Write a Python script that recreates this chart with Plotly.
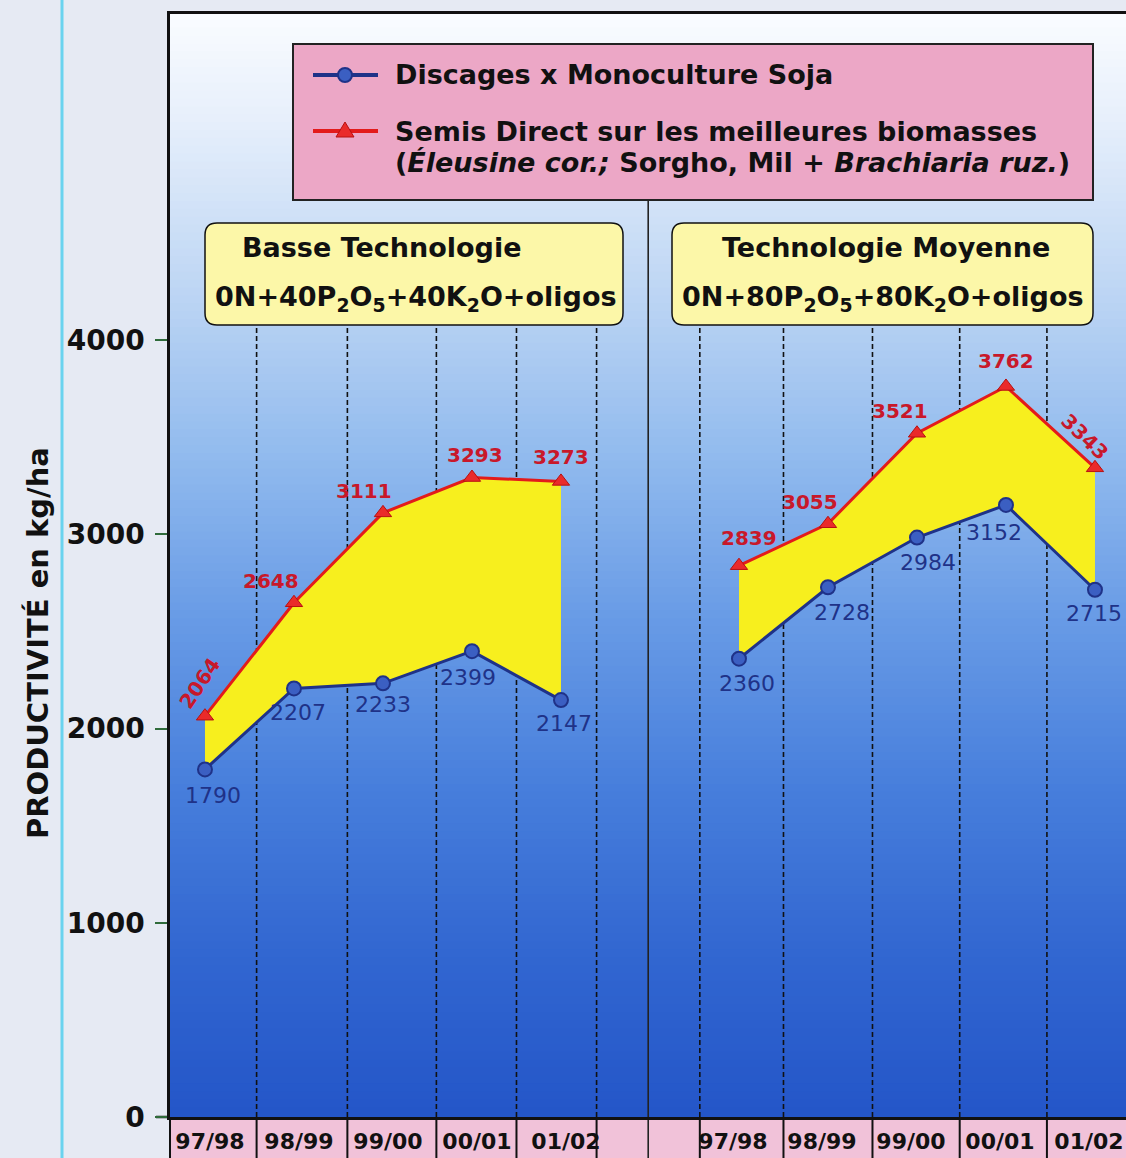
import plotly.graph_objects as go

# ---- data -------------------------------------------------------------
seasons = ["97/98", "98/99", "99/00", "00/01", "01/02"]
panel_titles = ["Basse Technologie", "Technologie Moyenne"]
panel_formulas = [
    "0N+40P<sub>2</sub>O<sub>5</sub>+40K<sub>2</sub>O+oligos",
    "0N+80P<sub>2</sub>O<sub>5</sub>+80K<sub>2</sub>O+oligos",
]
panel_start = [0, 6]          # x slot of the first season of each panel

discages_basse = [1790, 2207, 2233, 2399, 2147]
semis_basse = [2064, 2648, 3111, 3293, 3273]
discages_moyenne = [2360, 2728, 2984, 3152, 2715]
semis_moyenne = [2839, 3055, 3521, 3762, 3343]

y_ticks = [0, 1000, 2000, 3000, 4000]

# ---- label placement (pixel shifts / angles) --------------------------
disc_shift = [[(8, -26), (4, -24), (0, -21), (-4, -26), (3, -23)],
              [(8, -25), (14, -25), (11, -25), (-12, -28), (-1, -24)]]
semis_shift = [[(-5, 33), (-23, 22), (-19, 22), (3, 23), (0, 24)],
               [(10, 28), (-18, 22), (-17, 22), (0, 25), (-10, 31)]]
semis_angle = [[-56, 0, 0, 0, 0], [0, 0, 0, 0, 44]]
season_label_shift = [5, -6]   # per panel, px along the axis

# ---- geometry ---------------------------------------------------------
W, H = 1126, 1158
ML, MT, MB, MR = 170, 14, 41, 0
PW, PH = W - ML - MR, H - MT - MB
X0 = -0.393
XSPAN = PW / 89.0
X_RANGE = [X0, X0 + XSPAN]
Y_TOP = 5680

FONT = "DejaVu Sans"
NAVY = "#1f3288"
RED = "#e31b1b"
LABEL_RED = "#c8182a"
YELLOW = "#f7ef1e"


def px_x(px):
    return (px - ML) / PW


def px_y(py):
    return (MT + PH - py) / PH


def rounded_box(x0, y0, x1, y1, r):
    a, b, c, d = px_x(x0), px_x(x1), px_y(y0), px_y(y1)
    rx, ry = r / PW, r / PH
    return (f"M {a+rx},{c} L {b-rx},{c} Q {b},{c} {b},{c-ry} "
            f"L {b},{d+ry} Q {b},{d} {b-rx},{d} L {a+rx},{d} "
            f"Q {a},{d} {a},{d+ry} L {a},{c-ry} Q {a},{c} {a+rx},{c} Z")


def lerp_color(t):
    stops = [(0.0, (250, 252, 255)), (0.1, (230, 239, 251)),
             (0.25, (190, 214, 244)), (0.4, (146, 187, 238)),
             (0.55, (104, 155, 230)), (0.7, (72, 127, 220)),
             (0.85, (50, 103, 209)), (1.0, (36, 86, 200))]
    for (t0, c0), (t1, c1) in zip(stops, stops[1:]):
        if t <= t1:
            f = (t - t0) / (t1 - t0)
            return "rgb(%d,%d,%d)" % tuple(round(c0[i] + f * (c1[i] - c0[i])) for i in range(3))
    return "rgb(%d,%d,%d)" % stops[-1][1]


fig = go.Figure()

# ---- series (each panel on its own overlaid x axis) -------------------
series = [(discages_basse, semis_basse), (discages_moyenne, semis_moyenne)]
xaxis_ids = ["x", "x2"]
for p, (disc, semis) in enumerate(series):
    xs = [panel_start[p] + i for i in range(len(seasons))]
    fig.add_trace(go.Scatter(
        x=xs, y=disc, mode="lines+markers", xaxis=xaxis_ids[p],
        line=dict(color=NAVY, width=3),
        marker=dict(symbol="circle", size=14, color="#3b5fc2",
                    line=dict(color=NAVY, width=2)),
        showlegend=False, hoverinfo="skip"))
    fig.add_trace(go.Scatter(
        x=xs, y=semis, mode="lines+markers", xaxis=xaxis_ids[p],
        fill="tonexty", fillcolor=YELLOW,
        line=dict(color=RED, width=3),
        marker=dict(symbol="triangle-up", size=15, color="#ea2a2a",
                    line=dict(color="#b81010", width=1)),
        showlegend=False, hoverinfo="skip"))

# ---- value labels -----------------------------------------------------
annotations = []
for p, (disc, semis) in enumerate(series):
    for i in range(len(seasons)):
        x = panel_start[p] + i
        dx, dy = disc_shift[p][i]
        annotations.append(dict(
            xref=xaxis_ids[p], yref="y",
            x=x, y=disc[i], text=str(disc[i]), showarrow=False,
            xshift=dx, yshift=dy,
            font=dict(family=FONT, size=22, color=NAVY)))
        dx, dy = semis_shift[p][i]
        annotations.append(dict(
            xref=xaxis_ids[p], yref="y",
            x=x, y=semis[i], text=str(semis[i]), showarrow=False,
            xshift=dx, yshift=dy, textangle=semis_angle[p][i],
            font=dict(family=FONT, size=20, color=LABEL_RED, weight="bold")))

# ---- shapes -----------------------------------------------------------
shapes = []
# plot background gradient
N = 140
for k in range(N):
    shapes.append(dict(type="rect", xref="paper", yref="paper", layer="below",
                       x0=0, x1=1, y0=1 - (k + 1) / N, y1=1 - k / N + 0.002,
                       fillcolor=lerp_color((k + 0.5) / N), line=dict(width=0)))

# label band under the axis
shapes.append(dict(type="rect", xref="paper", yref="paper", layer="below",
                   x0=0, x1=1, y0=px_y(H), y1=0,
                   fillcolor="#f1c2d9", line=dict(width=0)))

# season separators (dashed inside the plot, solid in the label band)
separators = [0.58, 1.6, 2.6, 3.5, 4.4, 5.56, 6.5, 7.5, 8.48, 9.46]
for xs in separators:
    shapes.append(dict(type="line", xref="x", yref="paper", layer="below",
                       x0=xs, x1=xs, y0=0, y1=px_y(327),
                       line=dict(color="#111111", width=1.6, dash="5px,3px")))
    shapes.append(dict(type="line", xref="x", yref="paper", layer="below",
                       x0=xs, x1=xs, y0=px_y(H), y1=0,
                       line=dict(color="#111111", width=2)))
# panel divider
shapes.append(dict(type="line", xref="x", yref="paper", layer="below",
                   x0=4.98, x1=4.98, y0=px_y(H), y1=px_y(200),
                   line=dict(color="#222222", width=1.6)))
shapes.append(dict(type="line", xref="paper", yref="paper", layer="below",
                   x0=0, x1=0, y0=px_y(H), y1=0,
                   line=dict(color="#111111", width=2)))
# axis baseline reaching past the plot
shapes.append(dict(type="line", xref="paper", yref="paper", layer="below",
                   x0=px_x(156), x1=0, y0=0, y1=0,
                   line=dict(color="#111111", width=2.5)))
# cyan rule at the page edge
shapes.append(dict(type="line", xref="paper", yref="paper", layer="below",
                   x0=px_x(62), x1=px_x(62), y0=px_y(H), y1=px_y(0),
                   line=dict(color="#6ad3ef", width=3)))

# panel title boxes
boxes = [(205, 223, 623, 325), (672, 223, 1093, 325)]
for bx in boxes:
    shapes.append(dict(type="path", xref="paper", yref="paper", layer="above",
                       path=rounded_box(*bx, 12), fillcolor="#fcf7a8",
                       line=dict(color="#111111", width=1.5)))

# legend box
shapes.append(dict(type="rect", xref="paper", yref="paper", layer="above",
                   x0=px_x(293), x1=px_x(1093), y0=px_y(200), y1=px_y(44),
                   fillcolor="#eca7c6", line=dict(color="#222222", width=2)))
shapes.append(dict(type="line", xref="paper", yref="paper", layer="above",
                   x0=px_x(313), x1=px_x(378), y0=px_y(75), y1=px_y(75),
                   line=dict(color=NAVY, width=4)))
shapes.append(dict(type="circle", xref="paper", yref="paper", layer="above",
                   x0=px_x(338), x1=px_x(352), y0=px_y(82), y1=px_y(68),
                   fillcolor="#3b5fc2", line=dict(color=NAVY, width=2)))
shapes.append(dict(type="line", xref="paper", yref="paper", layer="above",
                   x0=px_x(313), x1=px_x(378), y0=px_y(131), y1=px_y(131),
                   line=dict(color=RED, width=4)))
shapes.append(dict(type="path", xref="paper", yref="paper", layer="above",
                   path=(f"M {px_x(345)},{px_y(122)} L {px_x(354)},{px_y(137)} "
                         f"L {px_x(336)},{px_y(137)} Z"),
                   fillcolor="#ea2a2a", line=dict(color="#b81010", width=1)))

# ---- texts ------------------------------------------------------------
bold = dict(family=FONT, color="#111111", weight="bold")
legend_lines = [
    (75, "Discages x Monoculture Soja"),
    (131, "Semis Direct sur les meilleures biomasses"),
    (162, "(<i>Éleusine cor.;</i> Sorgho, Mil + <i>Brachiaria ruz.</i>)"),
]
for py, txt in legend_lines:
    annotations.append(dict(xref="paper", yref="paper", x=px_x(393), y=px_y(py),
                            xanchor="left", yanchor="middle", showarrow=False,
                            text=txt, font=dict(size=27, **bold)))

annotations.append(dict(xref="paper", yref="paper", x=px_x(240), y=px_y(247),
                        xanchor="left", yanchor="middle", showarrow=False,
                        text=panel_titles[0], font=dict(size=27, **bold)))
annotations.append(dict(xref="paper", yref="paper", x=px_x(886), y=px_y(247),
                        xanchor="center", yanchor="middle", showarrow=False,
                        text=panel_titles[1], font=dict(size=27, **bold)))
for cx, txt in zip([416, 883], panel_formulas):
    annotations.append(dict(xref="paper", yref="paper", x=px_x(cx), y=px_y(298),
                            xanchor="center", yanchor="middle", showarrow=False,
                            text=txt, font=dict(size=27, **bold)))

annotations.append(dict(xref="paper", yref="paper", x=px_x(38), y=px_y(643),
                        xanchor="center", yanchor="middle", showarrow=False,
                        textangle=-90, text="PRODUCTIVITÉ en kg/ha",
                        font=dict(size=29, **bold)))

# ---- layout -----------------------------------------------------------
tick_font = dict(family=FONT, size=22, color="#111111", weight="bold")


def season_axis(p, **extra):
    xs = [panel_start[p] + i for i in range(len(seasons))]
    return dict(range=X_RANGE, tickvals=xs, ticktext=seasons,
                showgrid=False, zeroline=False, ticks="",
                showline=True, mirror=True, linecolor="#111111", linewidth=2.5,
                ticklabelstandoff=3, ticklabelshift=season_label_shift[p],
                tickfont=tick_font, **extra)


fig.update_layout(
    width=W, height=H,
    margin=dict(l=ML, r=MR, t=MT, b=MB, pad=0),
    paper_bgcolor="#e6eaf3",
    plot_bgcolor="rgba(0,0,0,0)",
    showlegend=False,
    xaxis=season_axis(0),
    xaxis2=season_axis(1, overlaying="x", anchor="y", side="bottom"),
    yaxis=dict(range=[0, Y_TOP], tickvals=y_ticks, showgrid=False,
               zeroline=False, showline=True, linecolor="#111111", linewidth=2.5,
               ticks="outside", ticklen=12, tickwidth=2, tickcolor="#2f6b3a",
               ticklabelstandoff=5,
               tickfont=dict(family=FONT, size=28, color="#111111", weight="bold")),
    shapes=shapes,
    annotations=annotations,
)

fig.write_html("out.html")
